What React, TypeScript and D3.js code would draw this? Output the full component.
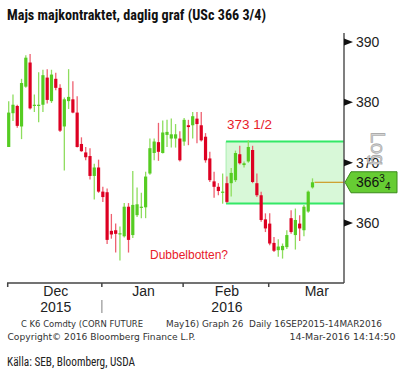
import React from "react";
import * as d3 from "d3";

const opens = [372.6,378.2,379.4,376.0,382.6,386.6,379.5,379.4,379.6,384.1,380.2,383.9,382.4,376.0,380.2,380.5,378.3,373.1,371.7,371.1,367.8,369.2,365.2,365.1,358.7,358.8,358.1,357.8,362.7,358.0,361.3,362.5,362.6,368.2,371.6,373.4,371.6,374.6,374.0,374.0,374.0,373.5,376.2,376.2,377.3,376.2,374.3,370.7,366.9,366.0,365.0,366.6,366.6,367.1,371.4,369.6,370.2,372.1,366.6,364.6,360.6,359.9,356.7,355.5,355.5,356.0,360.8,358.0,359.9,358.8,361.9,365.9];
const highs = [380.2,381.3,379.6,383.9,387.8,388.0,381.3,385.0,385.4,385.5,385.4,384.9,383.0,380.8,385.5,383.5,381.0,374.2,372.6,372.4,369.8,370.5,366.0,365.7,361.5,359.9,359.4,363.3,363.3,368.6,365.9,365.0,368.5,374.0,374.0,376.6,377.0,377.1,377.3,376.4,375.2,377.4,377.1,378.4,378.4,378.4,374.9,371.8,368.5,366.6,368.2,367.7,369.1,372.0,372.8,370.2,373.7,372.8,368.2,365.2,361.6,361.6,357.7,357.3,356.6,358.8,362.1,362.4,361.3,363.0,365.4,367.4];
const lows = [372.6,376.9,375.8,373.9,382.4,378.8,378.4,376.7,378.4,379.8,379.9,382.0,375.1,368.7,378.9,378.2,372.5,371.8,370.4,367.2,363.9,365.0,363.5,356.5,357.4,355.1,353.8,357.6,355.1,357.5,361.0,360.8,360.8,368.0,370.4,370.3,371.5,372.6,372.5,372.5,370.2,372.8,372.9,374.0,373.2,373.5,370.0,366.8,364.2,364.6,363.2,363.3,364.4,366.8,369.7,369.2,370.0,366.6,364.3,360.2,358.5,356.3,355.2,354.4,354.1,355.7,358.2,355.6,357.0,357.8,361.7,365.7];
const closes = [378.3,379.6,376.1,383.2,387.4,379.0,379.6,379.6,384.5,380.4,384.6,382.4,375.3,380.5,380.9,378.3,372.6,371.9,370.9,367.8,369.2,365.2,364.3,357.2,358.1,358.2,358.3,362.7,357.2,363.0,363.1,362.7,367.7,372.4,373.5,371.8,375.0,375.1,374.7,374.7,370.4,377.1,375.9,377.7,376.4,373.7,370.4,367.1,366.0,365.3,365.2,363.5,368.3,371.6,369.9,369.9,372.6,366.8,364.6,360.5,359.1,356.6,355.4,356.1,356.2,358.0,358.5,360.5,359.1,362.7,365.2,366.75];

const months = ["Dec", "Jan", "Feb", "Mar"];
const monthStartIdx = [0, 22, 41, 61];
const monthEndIdx = 83;
const years = [{ label: "2015", month: 0 }, { label: "2016", month: 2 }];
const yTicks = [360, 370, 380, 390];
const rangeTop = 373.5;
const rangeBottom = 363.25;
const rangeStartIdx = 50.8;
const lastPrice = 366.75;

export default function App() {
  const x = d3.scaleLinear().domain([0, 71]).range([8.7, 312.5]);
  const y = d3.scaleLinear().domain([360, 390]).range([223, 42]);
  const axisX = 344;
  const axisBottom = 283;
  const green = "#55cc22";
  const greenWick = "#8edd5e";
  const red = "#dd0022";
  const redWick = "#ee6070";
  const bodyW = 3.2;

  const tickXs = monthStartIdx.map((i) => x(i) - 1);
  const labelXs = monthStartIdx.map((s, k) => {
    const e = k < monthStartIdx.length - 1 ? monthStartIdx[k + 1] : monthEndIdx;
    return (x(s) + x(e)) / 2;
  });
  const ly = y(lastPrice);

  return (
    <svg width={400} height={376} style={{ position: "absolute", left: 0, top: 0, background: "#fff" }}>
      <text x={7} y={20} fontFamily="'Liberation Sans Narrow', 'Roboto Condensed', 'Liberation Sans', Arial" fontWeight="bold" fontSize={15} fill="#111" textLength={259} lengthAdjust="spacingAndGlyphs">
        Majs majkontraktet, daglig graf (USc 366 3/4)
      </text>

      {/* range box */}
      <rect x={x(rangeStartIdx)} y={y(rangeTop)} width={axisX - x(rangeStartIdx)} height={y(rangeBottom) - y(rangeTop)} fill="#d8f8d8" />
      <line x1={x(rangeStartIdx)} x2={x(rangeStartIdx)} y1={y(rangeTop)} y2={y(rangeBottom)} stroke="#a8eeb0" strokeWidth={1} />
      <line x1={x(rangeStartIdx)} x2={axisX} y1={y(rangeTop)} y2={y(rangeTop)} stroke="#33e866" strokeWidth={2} />
      <line x1={x(rangeStartIdx)} x2={axisX} y1={y(rangeBottom)} y2={y(rangeBottom)} stroke="#33e866" strokeWidth={2} />

      {/* candles */}
      {opens.map((o, i) => {
        const c = closes[i];
        const up = c >= o;
        const cx = x(i);
        const top = y(Math.max(o, c));
        const bot = y(Math.min(o, c));
        return (
          <g key={i}>
            <line x1={cx} x2={cx} y1={y(highs[i])} y2={y(lows[i])} stroke={up ? greenWick : redWick} strokeWidth={1.3} />
            <rect x={cx - bodyW / 2} y={top} width={bodyW} height={Math.max(1.2, bot - top)} fill={up ? green : red} />
          </g>
        );
      })}

      {/* last price line */}
      <line x1={x(71) + 2} x2={axisX} y1={ly} y2={ly} stroke="#cc8800" strokeWidth={1} />

      {/* axes */}
      <line x1={axisX} x2={axisX} y1={33} y2={axisBottom} stroke="#555" strokeWidth={1.5} />
      <line x1={7} x2={axisX} y1={axisBottom} y2={axisBottom} stroke="#444" strokeWidth={1.5} />
      {tickXs.map((tx, k) => (
        <line key={k} x1={tx} x2={tx} y1={axisBottom} y2={axisBottom + 4} stroke="#444" strokeWidth={1.5} />
      ))}
      {months.map((m, k) => (
        <text key={m} x={labelXs[k]} y={296} textAnchor="middle" fontFamily="'Liberation Sans', Arial" fontSize={14} fill="#222">{m}</text>
      ))}
      {years.map((yy) => (
        <text key={yy.label} x={labelXs[yy.month]} y={312} textAnchor="middle" fontFamily="'Liberation Sans', Arial" fontSize={14} fill="#222">{yy.label}</text>
      ))}
      <line x1={tickXs[1]} x2={tickXs[1]} y1={300} y2={313} stroke="#aaa" strokeWidth={1.5} />

      {yTicks.map((t) => (
        <g key={t}>
          <polygon points={`${axisX},${y(t) - 3.5} ${axisX + 9},${y(t)} ${axisX},${y(t) + 3.5}`} fill="#111" />
          <text x={356} y={y(t) + 5} fontFamily="'Liberation Sans', Arial" fontSize={14} fill="#222">{t}</text>
        </g>
      ))}

      {/* Log watermark */}
      <text transform="translate(371,132) rotate(90)" fontFamily="'Liberation Sans', Arial" fontSize={20} fill="#d4d4d4" stroke="#a0a0a0" strokeWidth={0.6}>Log</text>

      {/* price tag */}
      <polygon points={`${axisX + 1},${ly} ${axisX + 7},${ly - 10.5} 397,${ly - 10.5} 397,${ly + 10.5} ${axisX + 7},${ly + 10.5}`} fill="#66cc33" stroke="#3a8a1a" strokeWidth={1} />
      <text x={356} y={ly + 5} fontFamily="'Liberation Sans', Arial" fontSize={14} fill="#111">
        366<tspan fontSize={10} dy={-5}>3</tspan><tspan fontSize={10} dy={8}>4</tspan>
      </text>

      {/* annotations */}
      <text x={227} y={128.5} fontFamily="'Liberation Sans', Arial" fontSize={13} fill="#e8202a" textLength={45} lengthAdjust="spacingAndGlyphs">373 1/2</text>
      <text x={150} y={258.5} fontFamily="'Liberation Sans', Arial" fontSize={13} fill="#e8202a" textLength={78} lengthAdjust="spacingAndGlyphs">Dubbelbotten?</text>

      {/* footer */}
      <g fontFamily="'DejaVu Sans', sans-serif" fontSize={8.5} fill="#333">
        <text x={21} y={327} textLength={122} lengthAdjust="spacingAndGlyphs">C K6 Comdty (CORN FUTURE</text>
        <text x={166} y={327} textLength={216} lengthAdjust="spacingAndGlyphs" xmlSpace="preserve">May16) Graph 26  Daily 16SEP2015-14MAR2016</text>
        <text x={7.5} y={340} textLength={188} lengthAdjust="spacingAndGlyphs">Copyright© 2016 Bloomberg Finance L.P.</text>
        <text x={289.5} y={340} textLength={106} lengthAdjust="spacingAndGlyphs">14-Mar-2016 14:14:50</text>
      </g>
      <text x={7} y={366} fontFamily="'Liberation Sans Narrow', 'Roboto Condensed', 'Liberation Sans', Arial" fontSize={13} fill="#222" textLength={128} lengthAdjust="spacingAndGlyphs">Källa: SEB, Bloomberg, USDA</text>
    </svg>
  );
}
